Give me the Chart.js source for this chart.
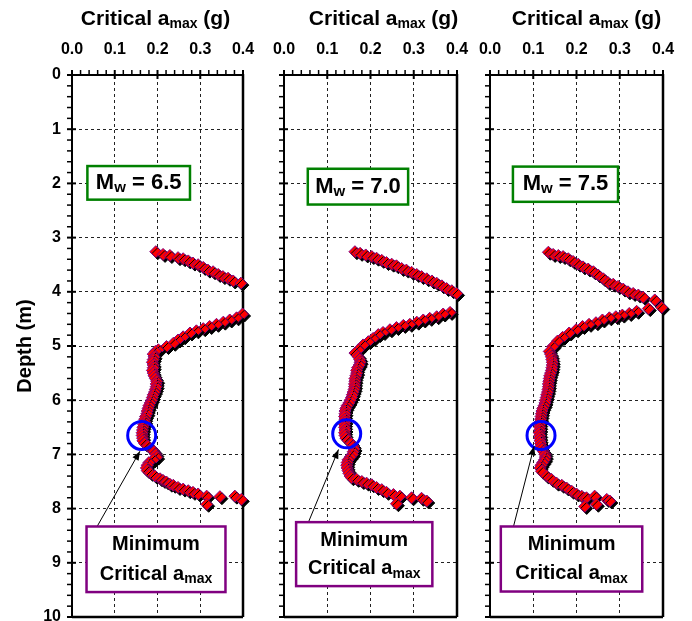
<!DOCTYPE html>
<html>
<head>
<meta charset="utf-8">
<script src="https://cdn.jsdelivr.net/npm/chart.js@4.4.1/dist/chart.umd.min.js"></script>
<style>
  body { margin: 0; width: 692px; height: 621px; overflow: hidden; background: #fff; position: relative; }
  .panel { position: absolute; top: 0; }
</style>
</head>
<body>
<div class="panel" style="left:0"><canvas id="c65" width="262" height="632"></canvas></div>
<div class="panel" style="left:262px"><canvas id="c70" width="213" height="632"></canvas></div>
<div class="panel" style="left:470px"><canvas id="c75" width="222" height="632"></canvas></div>
<script>
// tick labels
const xTickLabels = ["0.0", "0.1", "0.2", "0.3", "0.4"];
const depthTicks = [0, 1, 2, 3, 4, 5, 6, 7, 8, 9, 10];
const magnitudes = ["6.5", "7.0", "7.5"];

// [critical amax (g), depth (m)]
const pts65 = [
  [0.196, 3.26], [0.213, 3.31], [0.229, 3.33], [0.248, 3.37], [0.26, 3.39], [0.272, 3.43], [0.283, 3.47],
  [0.295, 3.50], [0.307, 3.55], [0.318, 3.60], [0.330, 3.63], [0.342, 3.68], [0.353, 3.72], [0.365, 3.75],
  [0.377, 3.80], [0.395, 3.84],
  [0.399, 4.41], [0.385, 4.48], [0.369, 4.52], [0.354, 4.56], [0.338, 4.60], [0.322, 4.64], [0.307, 4.68],
  [0.291, 4.72], [0.276, 4.76], [0.26, 4.83], [0.248, 4.89], [0.237, 4.95], [0.221, 5.01], [0.202, 5.07],
  [0.195, 5.10], [0.19, 5.15], [0.192, 5.20], [0.19, 5.25], [0.188, 5.30], [0.19, 5.35], [0.19, 5.40],
  [0.188, 5.45], [0.19, 5.50], [0.192, 5.55], [0.195, 5.60], [0.198, 5.65], [0.197, 5.70], [0.197, 5.75],
  [0.195, 5.80], [0.193, 5.85], [0.19, 5.90], [0.188, 5.95], [0.186, 6.00], [0.183, 6.05], [0.18, 6.10],
  [0.178, 6.15], [0.176, 6.20], [0.175, 6.25], [0.172, 6.30], [0.17, 6.35], [0.17, 6.40], [0.168, 6.45],
  [0.166, 6.50], [0.165, 6.55], [0.164, 6.60], [0.164, 6.65], [0.165, 6.70], [0.166, 6.75], [0.17, 6.80],
  [0.178, 6.85], [0.186, 6.90], [0.192, 6.95], [0.196, 7.00], [0.198, 7.05], [0.19, 7.10], [0.18, 7.15],
  [0.176, 7.20], [0.174, 7.25], [0.176, 7.30], [0.184, 7.35], [0.194, 7.40],
  [0.206, 7.45], [0.213, 7.48], [0.221, 7.51], [0.229, 7.55], [0.237, 7.57], [0.248, 7.61], [0.26, 7.64],
  [0.272, 7.67], [0.283, 7.70], [0.295, 7.73], [0.315, 7.77], [0.346, 7.78], [0.381, 7.77], [0.396, 7.83],
  [0.315, 7.92]
];

const pts70 = [
  [0.164, 3.26], [0.176, 3.29], [0.189, 3.32], [0.203, 3.35], [0.214, 3.38], [0.226, 3.42], [0.237, 3.46],
  [0.249, 3.49], [0.26, 3.52], [0.272, 3.57], [0.283, 3.60], [0.295, 3.64], [0.307, 3.68], [0.318, 3.72],
  [0.33, 3.76], [0.342, 3.80], [0.353, 3.84], [0.365, 3.89], [0.376, 3.94], [0.388, 3.98], [0.399, 4.03],
  [0.384, 4.38], [0.368, 4.41], [0.353, 4.46], [0.337, 4.49], [0.322, 4.52], [0.307, 4.56], [0.291, 4.60],
  [0.276, 4.62], [0.26, 4.66], [0.245, 4.70], [0.229, 4.75], [0.218, 4.79], [0.206, 4.86], [0.195, 4.92],
  [0.183, 4.98], [0.172, 5.07], [0.164, 5.13],
  [0.172, 5.20], [0.175, 5.25], [0.176, 5.30], [0.174, 5.35], [0.17, 5.40], [0.168, 5.45], [0.168, 5.50],
  [0.166, 5.55], [0.164, 5.60], [0.164, 5.65], [0.163, 5.70], [0.163, 5.75], [0.162, 5.80], [0.16, 5.85],
  [0.158, 5.90], [0.156, 5.95], [0.153, 6.00], [0.15, 6.05], [0.146, 6.10], [0.143, 6.15], [0.141, 6.20],
  [0.141, 6.25], [0.14, 6.30], [0.141, 6.35], [0.141, 6.40], [0.14, 6.45], [0.14, 6.50], [0.141, 6.55],
  [0.14, 6.60], [0.141, 6.65], [0.143, 6.70], [0.149, 6.75], [0.156, 6.80], [0.16, 6.85], [0.162, 6.90],
  [0.16, 6.95], [0.158, 7.00], [0.153, 7.05], [0.148, 7.10], [0.146, 7.15], [0.145, 7.20], [0.146, 7.25],
  [0.148, 7.30], [0.15, 7.35], [0.153, 7.40],
  [0.156, 7.43], [0.168, 7.46], [0.18, 7.50], [0.191, 7.53], [0.203, 7.56], [0.214, 7.61], [0.226, 7.65],
  [0.237, 7.70], [0.253, 7.74], [0.268, 7.77], [0.295, 7.80], [0.318, 7.81], [0.33, 7.86], [0.26, 7.91]
];

const pts75 = [
  [0.135, 3.27], [0.146, 3.31], [0.158, 3.33], [0.169, 3.35], [0.181, 3.39], [0.192, 3.44], [0.204, 3.49],
  [0.215, 3.54], [0.227, 3.58], [0.239, 3.63], [0.25, 3.69], [0.262, 3.76], [0.273, 3.83], [0.285, 3.86],
  [0.296, 3.90], [0.308, 3.95], [0.319, 4.00], [0.331, 4.03], [0.343, 4.06], [0.354, 4.10], [0.381, 4.15],
  [0.366, 4.31], [0.397, 4.29],
  [0.339, 4.36], [0.322, 4.40], [0.306, 4.43], [0.291, 4.46], [0.276, 4.48], [0.26, 4.52], [0.245, 4.57],
  [0.229, 4.60], [0.214, 4.64], [0.199, 4.70], [0.183, 4.76], [0.168, 4.84], [0.156, 4.91], [0.145, 5.01],
  [0.137, 5.10],
  [0.14, 5.15], [0.142, 5.20], [0.143, 5.25], [0.144, 5.30], [0.144, 5.35], [0.143, 5.40], [0.142, 5.45],
  [0.14, 5.50], [0.138, 5.55], [0.137, 5.60], [0.136, 5.65], [0.135, 5.70], [0.135, 5.75], [0.134, 5.80],
  [0.133, 5.85], [0.131, 5.90], [0.13, 5.95], [0.128, 6.00], [0.127, 6.05], [0.125, 6.10], [0.122, 6.15],
  [0.12, 6.20], [0.119, 6.25], [0.118, 6.30], [0.117, 6.35], [0.116, 6.40], [0.115, 6.45], [0.115, 6.50],
  [0.115, 6.55], [0.114, 6.60], [0.115, 6.65], [0.115, 6.70], [0.116, 6.75], [0.117, 6.80], [0.118, 6.85],
  [0.12, 6.90], [0.124, 6.95], [0.127, 7.00], [0.128, 7.05], [0.126, 7.10], [0.122, 7.15], [0.118, 7.20],
  [0.116, 7.25],
  [0.119, 7.31], [0.131, 7.40], [0.142, 7.46], [0.154, 7.53], [0.166, 7.57], [0.177, 7.62], [0.189, 7.68],
  [0.2, 7.73], [0.212, 7.77], [0.223, 7.80], [0.242, 7.77], [0.27, 7.83], [0.277, 7.86], [0.246, 7.92],
  [0.219, 7.96]
];

const FONT = '"Liberation Sans", Arial, sans-serif';
Chart.defaults.font.family = FONT;
Chart.defaults.color = "#000";

function line(ctx, x1, y1, x2, y2) {
  ctx.beginPath();
  ctx.moveTo(x1, y1);
  ctx.lineTo(x2, y2);
  ctx.stroke();
}

// text with subscripts: parts = [text, font, dy]
function drawParts(ctx, parts, cx, cy) {
  let w = 0;
  parts.forEach((p) => { ctx.font = p[1]; w += ctx.measureText(p[0]).width; });
  let x = cx - w / 2;
  ctx.textAlign = "left";
  ctx.textBaseline = "middle";
  ctx.fillStyle = "#000";
  parts.forEach((p) => {
    ctx.font = p[1];
    ctx.fillText(p[0], x, cy + p[2]);
    x += ctx.measureText(p[0]).width;
  });
}

const decor = {
  id: "decor",
  beforeDatasetsDraw(chart, args, o) {
    const { ctx, chartArea: ca, scales: { x, y } } = chart;
    ctx.save();
    ctx.strokeStyle = "#000";
    // minor + major ticks
    for (let i = 0; i <= 20; i++) {
      const px = x.getPixelForValue(i * 0.02);
      const major = i % 5 === 0;
      ctx.lineWidth = major ? 2 : 1.5;
      line(ctx, px, ca.top - 5, px, ca.top + (major ? 4 : 0));
    }
    for (let i = 0; i <= 50; i++) {
      const py = y.getPixelForValue(i * 0.2);
      const major = i % 5 === 0;
      ctx.lineWidth = major ? 2 : 1.5;
      line(ctx, ca.left - 5, py, ca.left + (major ? 4 : 0), py);
    }
    // tick labels
    ctx.fillStyle = "#000";
    ctx.font = "bold 16px " + FONT;
    ctx.textAlign = "center";
    ctx.textBaseline = "middle";
    xTickLabels.forEach((t, i) => {
      ctx.fillText(t, x.getPixelForValue(i / 10), ca.top - 25);
    });
    if (o.depthTitle) {
      ctx.textAlign = "right";
      depthTicks.forEach((d) => {
        ctx.fillText(String(d), ca.left - 11, y.getPixelForValue(d));
      });
    }
    // right and bottom frame
    ctx.lineWidth = 2.5;
    line(ctx, ca.right, ca.top - 1, ca.right, ca.bottom);
    line(ctx, ca.left, ca.bottom, ca.right, ca.bottom);
    ctx.restore();
    // shadow under the diamonds
    ctx.save();
    ctx.shadowColor = "#000";
    ctx.shadowOffsetX = 2;
    ctx.shadowOffsetY = 2;
    ctx.shadowBlur = 0;
  },
  afterDatasetsDraw(chart) {
    chart.ctx.restore();
  },
  afterDraw(chart, args, o) {
    const { ctx, chartArea: ca, scales: { x, y } } = chart;
    ctx.save();
    // axis title on top
    drawParts(ctx, [
      ["Critical a", "bold 21px " + FONT, 0],
      ["max", "bold 14px " + FONT, 5],
      [" (g)", "bold 21px " + FONT, 0]
    ], (ca.left + ca.right) / 2 + o.titleShift, 19);
    if (o.depthTitle) {
      ctx.save();
      ctx.translate(25, (ca.top + ca.bottom) / 2);
      ctx.rotate(-Math.PI / 2);
      drawParts(ctx, [["Depth (m)", "bold 20px " + FONT, 0]], 0, 0);
      ctx.restore();
    }
    // magnitude box
    const b = o.box;
    const bx1 = x.getPixelForValue(b[0]), bx2 = x.getPixelForValue(b[1]);
    const by1 = y.getPixelForValue(b[2]), by2 = y.getPixelForValue(b[3]);
    ctx.fillStyle = "#fff";
    ctx.fillRect(bx1, by1, bx2 - bx1, by2 - by1);
    ctx.strokeStyle = "#008000";
    ctx.lineWidth = 2.5;
    ctx.strokeRect(bx1, by1, bx2 - bx1, by2 - by1);
    drawParts(ctx, [
      ["M", "bold 22px " + FONT, 0],
      ["w", "bold 15px " + FONT, 5],
      [" = " + o.mw, "bold 22px " + FONT, 0]
    ], (bx1 + bx2) / 2, (by1 + by2) / 2);
    // circle around the minimum
    const cx = x.getPixelForValue(o.circle[0]), cy = y.getPixelForValue(o.circle[1]);
    ctx.strokeStyle = "#0000ff";
    ctx.lineWidth = 3;
    ctx.beginPath();
    ctx.arc(cx, cy, 14, 0, Math.PI * 2);
    ctx.stroke();
    // arrow
    const a = o.arrow;
    const ax1 = x.getPixelForValue(a[0]), ay1 = y.getPixelForValue(a[1]);
    const ax2 = x.getPixelForValue(a[2]), ay2 = y.getPixelForValue(a[3]);
    ctx.strokeStyle = "#000";
    ctx.fillStyle = "#000";
    ctx.lineWidth = 1;
    line(ctx, ax1, ay1, ax2, ay2);
    const ang = Math.atan2(ay2 - ay1, ax2 - ax1);
    ctx.beginPath();
    ctx.moveTo(ax2, ay2);
    ctx.lineTo(ax2 - 9 * Math.cos(ang) + 3.5 * Math.sin(ang), ay2 - 9 * Math.sin(ang) - 3.5 * Math.cos(ang));
    ctx.lineTo(ax2 - 9 * Math.cos(ang) - 3.5 * Math.sin(ang), ay2 - 9 * Math.sin(ang) + 3.5 * Math.cos(ang));
    ctx.closePath();
    ctx.fill();
    // minimum box
    const m = o.minBox;
    const mx1 = x.getPixelForValue(m[0]), mx2 = x.getPixelForValue(m[1]);
    const my1 = y.getPixelForValue(m[2]), my2 = y.getPixelForValue(m[3]);
    ctx.fillStyle = "#fff";
    ctx.fillRect(mx1, my1, mx2 - mx1, my2 - my1);
    ctx.strokeStyle = "#800080";
    ctx.lineWidth = 2.5;
    ctx.strokeRect(mx1, my1, mx2 - mx1, my2 - my1);
    const mc = (mx1 + mx2) / 2, mh = my2 - my1;
    drawParts(ctx, [["Minimum", "bold 20px " + FONT, 0]], mc, my1 + mh * 0.28);
    drawParts(ctx, [
      ["Critical a", "bold 20px " + FONT, 0],
      ["max", "bold 14px " + FONT, 5]
    ], mc, my1 + mh * 0.73);
    ctx.restore();
  }
};

const panels = [
  { id: "c65", mw: magnitudes[0], pts: pts65, yw: 72, padR: 19, showY: true, titleShift: -2,
    box: [0.036, 0.276, 1.68, 2.3], circle: [0.163, 6.65], minBox: [0.034, 0.359, 8.33, 9.54],
    arrow: [0.058, 8.34, 0.159, 6.94] },
  { id: "c70", mw: magnitudes[1], pts: pts70, yw: 22, padR: 18, showY: false, titleShift: 13,
    box: [0.055, 0.287, 1.73, 2.39], circle: [0.145, 6.62], minBox: [0.028, 0.343, 8.25, 9.43],
    arrow: [0.056, 8.26, 0.126, 6.91] },
  { id: "c75", mw: magnitudes[2], pts: pts75, yw: 20, padR: 29, showY: false, titleShift: 10,
    box: [0.053, 0.296, 1.69, 2.34], circle: [0.118, 6.65], minBox: [0.025, 0.352, 8.33, 9.53],
    arrow: [0.054, 8.34, 0.102, 6.85] }
];

panels.forEach((p) => {
  new Chart(p.id, {
    type: "scatter",
    data: {
      datasets: [{
        data: p.pts.map((d) => ({ x: d[0], y: d[1] })),
        pointStyle: "rectRot",
        pointRadius: 6,
        pointBackgroundColor: "#ff0000",
        pointBorderColor: "#800080",
        pointBorderWidth: 1,
        showLine: false,
        clip: false
      }]
    },
    options: {
      responsive: false,
      animation: false,
      events: [],
      layout: { padding: { left: 0, right: p.padR, top: 0, bottom: 15 } },
      plugins: {
        legend: { display: false },
        tooltip: { enabled: false },
        decor: {
          mw: p.mw, titleShift: p.titleShift, depthTitle: p.showY,
          box: p.box, circle: p.circle, minBox: p.minBox, arrow: p.arrow
        }
      },
      scales: {
        x: {
          type: "linear",
          position: "top",
          min: 0,
          max: 0.4,
          ticks: { stepSize: 0.1, display: false },
          grid: { color: "#222", lineWidth: 1, drawTicks: false },
          border: { display: true, color: "#000", width: 2, dash: [3, 3] },
          afterFit: (s) => { s.height = 75; }
        },
        y: {
          type: "linear",
          reverse: true,
          min: 0,
          max: 10,
          ticks: { stepSize: 1, display: false },
          grid: { color: "#222", lineWidth: 1, drawTicks: false },
          border: { display: true, color: "#000", width: 2, dash: [3, 3] },
          afterFit: (s) => { s.width = p.yw; }
        }
      }
    },
    plugins: [decor]
  });
});
</script>
</body>
</html>
